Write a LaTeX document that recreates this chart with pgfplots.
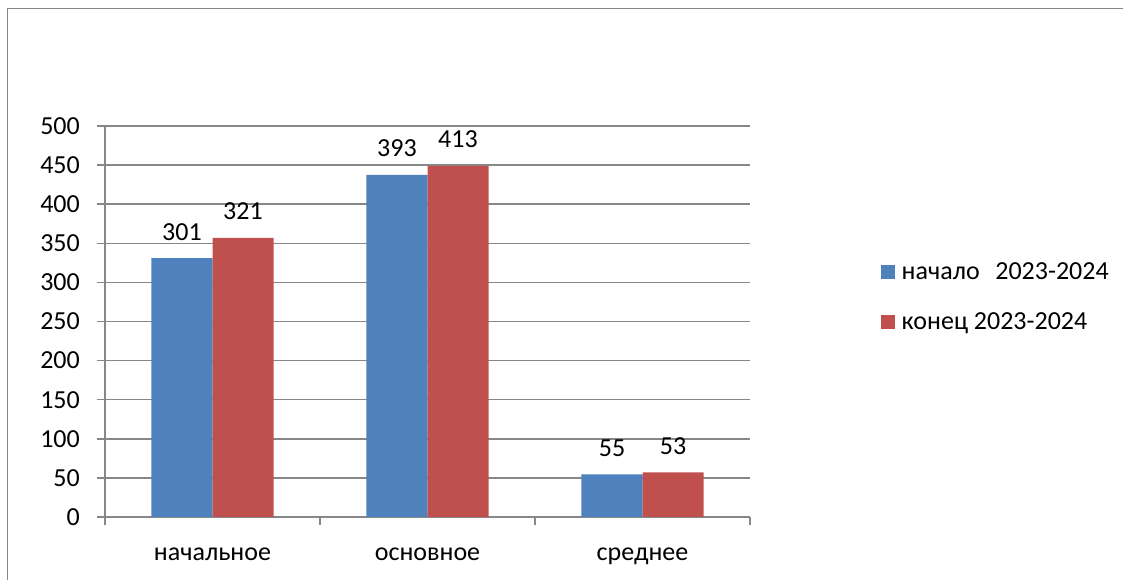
\documentclass[border=0pt]{standalone}
\usepackage{pgfplots}
\pgfplotsset{compat=1.18}
\usepackage{fontspec}
\setmainfont{Carlito}
\definecolor{cblue}{HTML}{4F81BD}
\definecolor{cred}{HTML}{C0504D}
\definecolor{cgray}{HTML}{878787}
\newcommand{\cf}{\fontsize{26bp}{31bp}\selectfont}
\begin{document}
\begin{tikzpicture}[font=\cf]
\path[use as bounding box] (0,0) rectangle (1123bp,580bp);
\draw[cgray, line width=1.5bp] (7.7bp,0) -- (7.7bp,571.7bp) -- (1123bp,571.7bp);
\begin{axis}[
  at={(105bp,63bp)}, anchor=south west,
  scale only axis, width=645bp, height=391bp,
  xmin=-0.5, xmax=2.5, ymin=0, ymax=500,
  axis lines*=left,
  axis line style={cgray, line width=1.5bp},
  tick style={cgray, line width=1.5bp},
  tick align=outside,
  major tick length=8bp,
  ytick={0,50,...,500},
  ymajorgrids,
  grid style={cgray, line width=1.5bp},
  xtick={-0.5,0.5,1.5,2.5},
  xticklabels={,,,},
  extra x ticks={0,1,2},
  extra x tick labels={начальное,основное,среднее},
  extra x tick style={major tick length=0pt, grid=none},
  /pgf/number format/assume math mode=true,
  tick label style={font=\cf, text=black},
  yticklabel style={anchor=east, inner sep=0pt, xshift=-17bp},
  xticklabel style={anchor=base, inner sep=0pt, yshift=-43bp},
  nodes near coords,
  point meta=explicit symbolic,
  every node near coord/.append style={anchor=base, inner sep=0pt, yshift=18bp, font=\cf, text=black},
  legend style={at={(1.2027,0.6611)}, anchor=north west, draw=none, fill=none,
    inner sep=0pt, outer sep=0pt, row sep=24bp,
    nodes={inner sep=0pt, text height=21bp, text depth=5bp, font=\cf},
    /tikz/every odd column/.append style={column sep=7bp}},
  legend cell align=left,
]
\addplot[ybar, bar width=0.284, bar shift=-0.142, fill=cblue, draw=none,
  every node near coord/.append style={xshift=-30.5bp},
  legend image code/.code={\fill[cblue] (0bp,-7bp) rectangle (14bp,7bp);}]
  coordinates {(0,331) [301] (1,437.5) [393] (2,54.5) [55]};
\addlegendentry{начало\hspace{0.6em}2023-2024}
\addplot[ybar, bar width=0.284, bar shift=0.142, fill=cred, draw=none,
  every node near coord/.append style={xshift=30.5bp},
  legend image code/.code={\fill[cred] (0bp,-7bp) rectangle (14bp,7bp);}]
  coordinates {(0,357) [321] (1,449) [413] (2,57) [53]};
\addlegendentry{конец 2023-2024}
\end{axis}
\end{tikzpicture}
\end{document}
